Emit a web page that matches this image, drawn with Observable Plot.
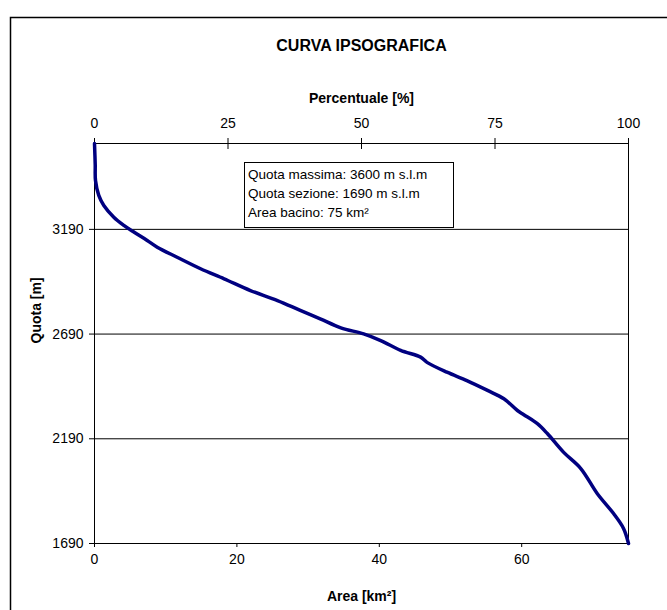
<!DOCTYPE html>
<html><head><meta charset="utf-8">
<script src="https://cdn.jsdelivr.net/npm/d3@7"></script>
<script src="https://cdn.jsdelivr.net/npm/@observablehq/plot@0.6"></script>
<style>body{margin:0;background:#fff;overflow:hidden;}</style>
</head><body><div id="chart"></div>
<script>
// Curve: area (km²) vs quota (m s.l.m)
const area  = [0, 0.1, 0.14, 0.6, 1.31, 2.71, 4.12, 5.52, 7.4, 8.81, 11.6, 14.9, 18.2, 21.9, 25.7, 28.9, 31.7, 34.6, 37.8, 40.2, 43.0, 45.8, 46.7, 49.5, 52.3, 55.2, 57.5, 59.4, 60.3, 62.2, 63.6, 65.9, 68.3, 70.6, 72.9, 74.3, 75];
const quota = [3600, 3500, 3423, 3352, 3304, 3248, 3209, 3177, 3137, 3105, 3057, 3002, 2954, 2898, 2850, 2803, 2763, 2720, 2691, 2659, 2612, 2580, 2555, 2508, 2468, 2421, 2381, 2325, 2305, 2262, 2215, 2125, 2048, 1929, 1833, 1762, 1690];
const totalArea = 75;
const yTicks = [1690, 2190, 2690, 3190];
const xTicks = [0, 20, 40, 60];
const pctTicks = [0, 25, 50, 75, 100];
const title = "CURVA IPSOGRAFICA";
const xTitle = "Area [km²]";
const yTitle = "Quota [m]";
const topTitle = "Percentuale [%]";
const info = ["Quota massima: 3600 m s.l.m", "Quota sezione: 1690 m s.l.m", "Area bacino: 75 km²"];

const data = area.map((a, i) => ({area: a, quota: quota[i]}));
const font = "'Liberation Sans', Arial, sans-serif";
const pctAsArea = pctTicks.map(p => p / 100 * totalArea);

const chart = Plot.plot({
  width: 667, height: 610,
  marginTop: 143, marginBottom: 67, marginLeft: 94, marginRight: 39,
  style: {fontFamily: font, fontSize: "14px", color: "#000", background: "#fff"},
  x: {domain: [0, totalArea], label: null},
  y: {domain: [1690, 3600], label: null},
  marks: [
    Plot.ruleY(yTicks.slice(1), {stroke: "#000", strokeWidth: 1}),
    Plot.frame({stroke: "#000", strokeWidth: 1}),
    Plot.axisY({ticks: yTicks, tickFormat: d => String(d), tickSize: 5, tickPadding: 6, label: null, fontSize: 14}),
    Plot.axisX({ticks: xTicks, tickFormat: d => String(d), tickSize: 4, tickPadding: 7, label: null, fontSize: 14}),
    Plot.axisX({anchor: "top", ticks: pctAsArea, tickFormat: d => String(Math.round(d / totalArea * 100)), tickSize: 6, tickPadding: 10, label: null, fontSize: 14}),
    Plot.axisX({anchor: "top", ticks: pctAsArea, tickFormat: () => "", tickSize: -5, label: null}),
    Plot.line(data, {x: "area", y: "quota", curve: "catmull-rom", stroke: "#000080", strokeWidth: 3.5, strokeLinejoin: "round", strokeLinecap: "round"}),
    Plot.text([title], {text: d => d, frameAnchor: "top", dy: -104, fontWeight: "bold", fontSize: 16}),
    Plot.text([topTitle], {text: d => d, frameAnchor: "top", dy: -50, fontWeight: "bold", fontSize: 14}),
    Plot.text([xTitle], {text: d => d, frameAnchor: "bottom", dy: 57, fontWeight: "bold", fontSize: 14}),
    Plot.text([yTitle], {text: d => d, frameAnchor: "left", dx: -58, rotate: -90, fontWeight: "bold", fontSize: 14})
  ]
});

const svg = d3.select(chart);
svg.insert("rect", ":first-child")
  .attr("x", 10.5).attr("y", 17.5).attr("width", 720).attr("height", 720)
  .attr("fill", "none").attr("stroke", "#000").attr("stroke-width", 1.5);

const box = svg.append("g").attr("text-anchor", "start");
box.append("rect").attr("x", 244.5).attr("y", 162.5).attr("width", 209).attr("height", 65)
  .attr("fill", "#fff").attr("stroke", "#000").attr("stroke-width", 1);
box.selectAll("text").data(info).join("text")
  .attr("x", 248).attr("y", (d, i) => 174 + i * 19)
  .attr("text-anchor", "start")
  .attr("dominant-baseline", "central")
  .attr("font-family", font).attr("font-size", 13.5).attr("fill", "#000")
  .text(d => d);

document.getElementById("chart").appendChild(chart);
</script>
</body></html>
